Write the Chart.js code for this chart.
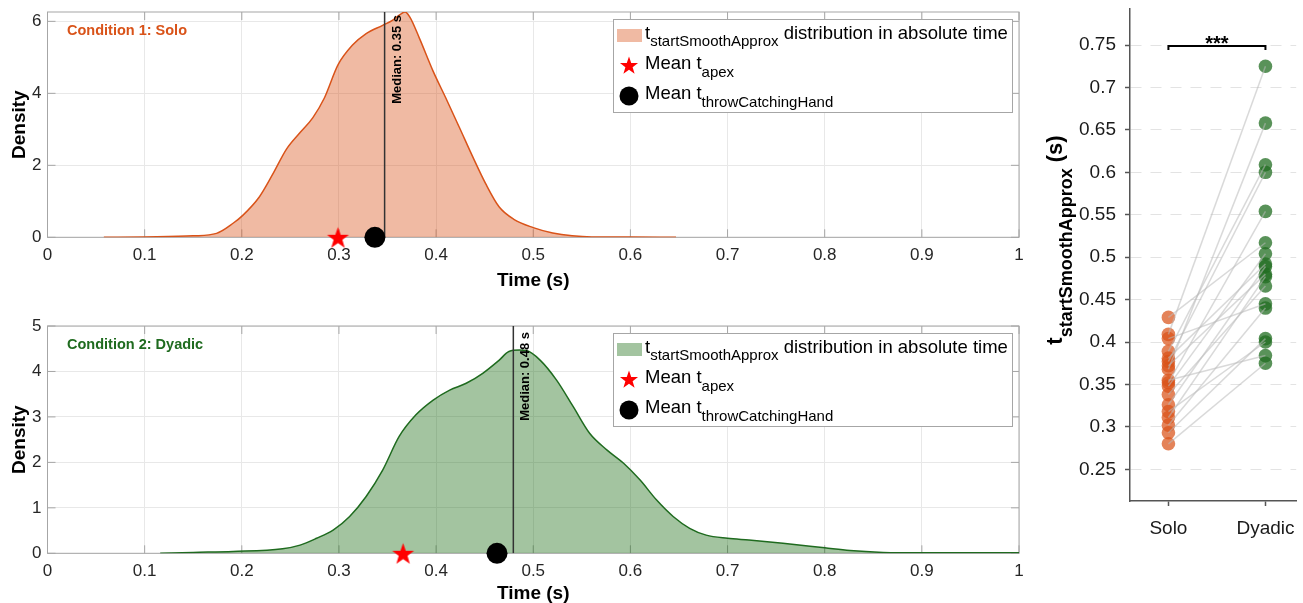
<!DOCTYPE html>
<html>
<head>
<meta charset="utf-8">
<title>tstartSmoothApprox</title>
<script src="https://cdn.jsdelivr.net/npm/chart.js@4.4.1/dist/chart.umd.min.js"></script>
<style>
    html, body { margin: 0; padding: 0; background: #fff; }
    #wrap { position: relative; width: 1303px; height: 603px; overflow: hidden; }
    canvas { position: absolute; }
</style>
</head>
<body>
<div id="wrap">
    <canvas id="grafico-solo" width="1040" height="300" style="left:0;top:0"></canvas>
    <canvas id="grafico-dyadic" width="1040" height="303" style="left:0;top:300px"></canvas>
    <canvas id="grafico-pares" width="273" height="603" style="left:1030px;top:0"></canvas>
</div>
<script>
// Eixos
const timeTicks = [0, 0.1, 0.2, 0.3, 0.4, 0.5, 0.6, 0.7, 0.8, 0.9, 1];
const soloDensityTicks = [0, 2, 4, 6];
const dyadicDensityTicks = [0, 1, 2, 3, 4, 5];

// Densidade - condição 1 (Solo)
const soloTime = [0.058, 0.10, 0.15, 0.174, 0.191, 0.201, 0.218, 0.232, 0.246, 0.260, 0.273, 0.285, 0.299, 0.314,
    0.328, 0.345, 0.355, 0.364, 0.368, 0.373, 0.383, 0.397, 0.410, 0.424, 0.438, 0.451, 0.465, 0.48, 0.50, 0.52,
    0.54, 0.56, 0.60, 0.647];
const soloDensity = [0, 0.01, 0.04, 0.11, 0.39, 0.61, 1.12, 1.76, 2.45, 2.91, 3.32, 3.87, 4.79, 5.34,
    5.66, 5.89, 6.03, 6.21, 6.26, 6.12, 5.52, 4.61, 3.87, 3.05, 2.22, 1.49, 0.84, 0.50, 0.27, 0.12,
    0.04, 0.01, 0.01, 0];

// Densidade - condição 2 (Dyadic)
const dyadicTime = [0.116, 0.15, 0.191, 0.242, 0.26, 0.277, 0.294, 0.311, 0.328, 0.345, 0.362, 0.379, 0.397, 0.414,
    0.431, 0.448, 0.465, 0.475, 0.486, 0.493, 0.507, 0.524, 0.541, 0.558, 0.576, 0.593, 0.610, 0.627, 0.644,
    0.661, 0.678, 0.70, 0.722, 0.757, 0.80, 0.826, 0.86, 0.90, 1.0];
const dyadicDensity = [0, 0.02, 0.04, 0.10, 0.18, 0.33, 0.51, 0.81, 1.25, 1.83, 2.57, 3.04, 3.37, 3.59,
    3.74, 3.96, 4.25, 4.44, 4.47, 4.46, 4.25, 3.81, 3.23, 2.64, 2.27, 1.98, 1.61, 1.17, 0.81,
    0.55, 0.40, 0.33, 0.29, 0.22, 0.12, 0.06, 0.02, 0.01, 0.01];

// Mediana, média t_apex, média t_throwCatchingHand  [Solo, Dyadic]
const medians = [0.347, 0.4795];
const meanApex = [0.299, 0.366];
const meanThrow = [0.337, 0.4627];

// Painel direito (pares por participante)
const pairCategories = ['Solo', 'Dyadic'];
const pairTicks = [0.25, 0.3, 0.35, 0.4, 0.45, 0.5, 0.55, 0.6, 0.65, 0.7, 0.75];
const soloStart = [0.429, 0.409, 0.404, 0.389, 0.381, 0.377, 0.372, 0.368, 0.355, 0.352, 0.348, 0.338,
    0.326, 0.318, 0.311, 0.302, 0.293, 0.280];
const dyadicStart = [0.517, 0.725, 0.445, 0.609, 0.492, 0.600, 0.480, 0.658, 0.384, 0.554, 0.504, 0.466,
    0.489, 0.400, 0.477, 0.440, 0.404, 0.375];

const FONT = '"Liberation Sans", Arial, Helvetica, sans-serif';
const fmt = v => String(Number(v.toFixed(2)));

// Estrela preenchida (pentagrama do MATLAB)
function drawStar(ctx, cx, cy, r, color) {
    ctx.beginPath();
    for (let i = 0; i < 10; i++) {
        const a = -Math.PI / 2 + i * Math.PI / 5;
        const rr = i % 2 ? r * 0.4 : r;
        const px = cx + rr * Math.cos(a), py = cy + rr * Math.sin(a);
        if (i === 0) ctx.moveTo(px, py); else ctx.lineTo(px, py);
    }
    ctx.closePath();
    ctx.fillStyle = color;
    ctx.fill();
}

function starImage(r) {
    const c = document.createElement('canvas');
    c.width = c.height = Math.ceil(r * 2 + 2);
    drawStar(c.getContext('2d'), c.width / 2, c.height / 2 + r * 0.1, r, '#ff0000');
    return c;
}

// Texto com subscrito
function richText(ctx, x, y, parts, size, subSize, shift, weight) {
    let cx = x;
    parts.forEach(p => {
        ctx.font = `${weight} ${p[1] ? subSize : size}px ${FONT}`;
        ctx.fillText(p[0], cx, y + (p[1] ? shift : 0));
        cx += ctx.measureText(p[0]).width;
    });
    return cx - x;
}

// sem folga automática para os rótulos das pontas
function semFolga(s) {
    s.paddingTop = 0;
    s.paddingBottom = 0;
    s.paddingLeft = 0;
    s.paddingRight = 0;
}

function drawLegend(ctx, area, fillColor) {
    const x = area.right - 406, y = area.top + 7, w = 399, h = 93;
    ctx.save();
    ctx.fillStyle = '#fff';
    ctx.fillRect(x, y, w, h);
    ctx.strokeStyle = '#a6a6a6';
    ctx.lineWidth = 1;
    ctx.strokeRect(x + 0.5, y + 0.5, w, h);
    ctx.fillStyle = fillColor;
    ctx.fillRect(x + 4, y + 10, 25, 13);
    drawStar(ctx, x + 16, y + 47, 9.5, '#ff0000');
    ctx.beginPath();
    ctx.arc(x + 16, y + 77, 9.5, 0, Math.PI * 2);
    ctx.fillStyle = '#000';
    ctx.fill();
    ctx.fillStyle = '#000';
    ctx.textBaseline = 'alphabetic';
    richText(ctx, x + 32, y + 19.5, [['t'], ['startSmoothApprox', 1], [' distribution in absolute time']], 18.5, 15, 7.5, '');
    richText(ctx, x + 32, y + 50, [['Mean t'], ['apex', 1]], 18.5, 15, 7.5, '');
    richText(ctx, x + 32, y + 80, [['Mean t'], ['throwCatchingHand', 1]], 18.5, 15, 7.5, '');
    ctx.restore();
}

// Painel de densidade (Solo / Dyadic)
function criarGraficoDensidade(id, cfg) {
    const ctx = document.getElementById(id);
    const yMax = cfg.yMax;

    const decor = {
        id: 'decor',
        beforeDatasetsDraw(chart) {
            const { ctx, chartArea: a, scales: { x, y } } = chart;
            ctx.save();
            ctx.strokeStyle = '#a6a6a6';
            ctx.lineWidth = 1;
            ctx.strokeRect(a.left, a.top, a.right - a.left, a.bottom - a.top);
            ctx.beginPath();
            timeTicks.forEach(t => {
                const px = x.getPixelForValue(t);
                ctx.moveTo(px, a.top); ctx.lineTo(px, a.top + 8);
                ctx.moveTo(px, a.bottom); ctx.lineTo(px, a.bottom - 8);
            });
            cfg.yTicks.forEach(t => {
                const py = y.getPixelForValue(t);
                ctx.moveTo(a.left, py); ctx.lineTo(a.left + 8, py);
                ctx.moveTo(a.right, py); ctx.lineTo(a.right - 8, py);
            });
            ctx.stroke();
            ctx.restore();
        },
        afterDatasetsDraw(chart) {
            const { ctx, chartArea: a, scales: { x } } = chart;
            const px = x.getPixelForValue(cfg.median);
            ctx.save();
            ctx.translate(px + 6, a.top + cfg.medianTop);
            ctx.rotate(-Math.PI / 2);
            ctx.font = `bold 13px ${FONT}`;
            ctx.fillStyle = '#000';
            ctx.textAlign = 'right';
            ctx.textBaseline = 'top';
            ctx.fillText(`Median: ${cfg.median.toFixed(2)} s`, 0, 0);
            ctx.restore();
        },
        afterDraw(chart) {
            const { ctx, chartArea: a } = chart;
            ctx.save();
            ctx.font = `bold 14.5px ${FONT}`;
            ctx.fillStyle = cfg.line;
            ctx.textBaseline = 'middle';
            ctx.fillText(cfg.title, a.left + 19.5, a.top + 19);
            ctx.restore();
            drawLegend(ctx, a, cfg.fill);
        }
    };

    return new Chart(ctx, {
        type: 'line',
        data: {
            datasets: [
                {
                    type: 'scatter',
                    data: [{ x: cfg.throwMean, y: 0 }],
                    pointRadius: 10.5,
                    backgroundColor: '#000',
                    borderWidth: 0,
                    clip: false,
                    order: 0
                },
                {
                    type: 'scatter',
                    data: [{ x: cfg.apexMean, y: 0 }],
                    pointStyle: starImage(11.5),
                    pointRadius: 11,
                    clip: false,
                    order: 1
                },
                {
                    data: [{ x: cfg.median, y: 0 }, { x: cfg.median, y: yMax }],
                    borderColor: '#333',
                    borderWidth: 1.5,
                    pointRadius: 0,
                    fill: false,
                    order: 2
                },
                {
                    data: cfg.time.map((t, i) => ({ x: t, y: cfg.density[i] })),
                    borderColor: cfg.line,
                    backgroundColor: cfg.fill,
                    borderWidth: 1.5,
                    pointRadius: 0,
                    fill: 'origin',
                    cubicInterpolationMode: 'monotone',
                    order: 3
                }
            ]
        },
        options: {
            responsive: false,
            animation: false,
            events: [],
            layout: { padding: { left: 0, right: 21, top: cfg.padTop, bottom: 0 } },
            plugins: { legend: { display: false }, tooltip: { enabled: false } },
            scales: {
                x: {
                    type: 'linear',
                    min: 0,
                    max: 1,
                    afterBuildTicks: s => { s.ticks = timeTicks.map(v => ({ value: v })); },
                    afterFit: s => { s.height = cfg.axisHeight; semFolga(s); },
                    grid: { color: '#e8e8e8', drawTicks: false },
                    border: { display: false },
                    ticks: {
                        autoSkip: false,
                        maxRotation: 0,
                        padding: 8,
                        color: '#262626',
                        font: { family: FONT, size: 17 },
                        callback: v => fmt(v)
                    },
                    title: {
                        display: true,
                        text: 'Time (s)',
                        color: '#000',
                        font: { family: FONT, size: 19, weight: 'bold' },
                        padding: { top: 0, bottom: cfg.titlePad }
                    }
                },
                y: {
                    type: 'linear',
                    min: 0,
                    max: yMax,
                    afterBuildTicks: s => { s.ticks = cfg.yTicks.map(v => ({ value: v })); },
                    afterFit: s => { s.width = 47.5; semFolga(s); },
                    grid: { color: '#e8e8e8', drawTicks: false },
                    border: { display: false },
                    ticks: {
                        padding: 6,
                        color: '#262626',
                        font: { family: FONT, size: 17 },
                        callback: v => fmt(v)
                    },
                    title: {
                        display: true,
                        text: 'Density',
                        color: '#000',
                        font: { family: FONT, size: 19, weight: 'bold' },
                        padding: { top: 8, bottom: 0 }
                    }
                }
            }
        },
        plugins: [decor]
    });
}

// Painel direito: Solo vs Dyadic por participante
function criarGraficoPares() {
    const ctx = document.getElementById('grafico-pares');

    const extras = {
        id: 'extras',
        afterDatasetsDraw(chart) {
            const { ctx, scales: { x, y } } = chart;
            const x0 = x.getPixelForValue(0), x1 = x.getPixelForValue(1);
            const yb = y.getPixelForValue(0.7488), yt = y.getPixelForValue(0.7443);
            ctx.save();
            ctx.strokeStyle = '#000';
            ctx.lineWidth = 2;
            ctx.beginPath();
            ctx.moveTo(x0, yt); ctx.lineTo(x0, yb); ctx.lineTo(x1, yb); ctx.lineTo(x1, yt);
            ctx.stroke();
            ctx.font = `bold 20px ${FONT}`;
            ctx.fillStyle = '#000';
            ctx.textAlign = 'center';
            ctx.textBaseline = 'alphabetic';
            ctx.fillText('***', (x0 + x1) / 2, yb + 4);
            ctx.restore();
        },
        afterDraw(chart) {
            const ctx = chart.ctx;
            const parts = [['t'], ['startSmoothApprox', 1], [' (s)']];
            ctx.save();
            ctx.fillStyle = '#000';
            let total = 0;
            parts.forEach(p => {
                ctx.font = `bold ${p[1] ? 18 : 22}px ${FONT}`;
                total += ctx.measureText(p[0]).width;
            });
            ctx.translate(32, 240);
            ctx.rotate(-Math.PI / 2);
            richText(ctx, -total / 2, 0, parts, 22, 18, 10, 'bold');
            ctx.restore();
        }
    };

    const linhas = soloStart.map((s, i) => ({
        type: 'line',
        data: [{ x: 0, y: s }, { x: 1, y: dyadicStart[i] }],
        borderColor: 'rgba(185,185,185,0.55)',
        borderWidth: 1.5,
        pointRadius: 0,
        fill: false,
        order: 0
    }));

    return new Chart(ctx, {
        type: 'scatter',
        data: {
            datasets: [
                ...linhas,
                {
                    data: soloStart.map(v => ({ x: 0, y: v })),
                    backgroundColor: 'rgba(217,83,25,0.72)',
                    borderWidth: 0,
                    pointRadius: 6.8,
                    order: 1
                },
                {
                    data: dyadicStart.map(v => ({ x: 1, y: v })),
                    backgroundColor: 'rgba(34,110,34,0.75)',
                    borderWidth: 0,
                    pointRadius: 6.8,
                    order: 1
                }
            ]
        },
        options: {
            responsive: false,
            animation: false,
            events: [],
            layout: { padding: { left: 0, right: 0, top: 9, bottom: 0 } },
            plugins: { legend: { display: false }, tooltip: { enabled: false } },
            scales: {
                x: {
                    type: 'linear',
                    min: -0.396,
                    max: 1.317,
                    afterBuildTicks: s => { s.ticks = pairCategories.map((c, i) => ({ value: i })); },
                    afterFit: s => { s.height = 102; semFolga(s); },
                    grid: { drawOnChartArea: false, drawTicks: true, tickLength: 5, tickColor: '#555', tickWidth: 1.5 },
                    border: { display: true, color: '#555', width: 1.5 },
                    ticks: {
                        autoSkip: false,
                        maxRotation: 0,
                        padding: 11,
                        color: '#1a1a1a',
                        font: { family: FONT, size: 19 },
                        callback: v => pairCategories[v]
                    }
                },
                y: {
                    type: 'linear',
                    min: 0.2126,
                    max: 0.7925,
                    afterBuildTicks: s => { s.ticks = pairTicks.map(v => ({ value: v })); },
                    afterFit: s => { s.width = 100; semFolga(s); },
                    grid: {
                        color: '#e3e3e3',
                        drawTicks: true,
                        tickLength: 5,
                        tickColor: '#555',
                        tickWidth: 1.5,
                        tickBorderDash: []
                    },
                    border: { display: true, color: '#555', width: 1.5, dash: [11, 9] },
                    ticks: {
                        padding: 9,
                        color: '#1a1a1a',
                        font: { family: FONT, size: 19 },
                        callback: v => fmt(v)
                    }
                }
            }
        },
        plugins: [extras]
    });
}

function inicializar() {
    criarGraficoDensidade('grafico-solo', {
        time: soloTime,
        density: soloDensity,
        yTicks: soloDensityTicks,
        yMax: 6.26,
        median: medians[0],
        apexMean: meanApex[0],
        throwMean: meanThrow[0],
        title: 'Condition 1: Solo',
        line: '#D95319',
        fill: 'rgba(217,83,25,0.4)',
        padTop: 10,
        axisHeight: 62.7,
        titlePad: 7.6,
        medianTop: 3
    });
    criarGraficoDensidade('grafico-dyadic', {
        time: dyadicTime,
        density: dyadicDensity,
        yTicks: dyadicDensityTicks,
        yMax: 5,
        median: medians[1],
        apexMean: meanApex[1],
        throwMean: meanThrow[1],
        title: 'Condition 2: Dyadic',
        line: '#1F6B1F',
        fill: 'rgba(25,107,18,0.4)',
        padTop: 26,
        axisHeight: 49.7,
        titlePad: -2,
        medianTop: 6
    });
    criarGraficoPares();
}

document.addEventListener('DOMContentLoaded', inicializar);
</script>
</body>
</html>
